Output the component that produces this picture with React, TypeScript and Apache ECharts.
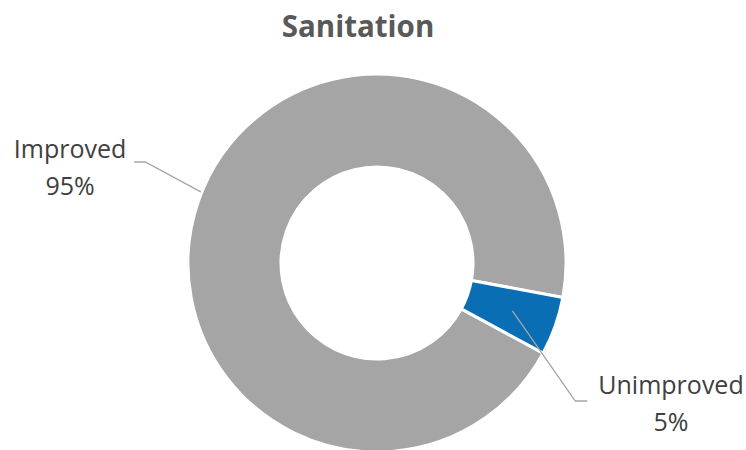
import React, { useEffect, useRef } from "react";
import * as echarts from "echarts";

const title = "Sanitation";
const categories = ["Improved", "Unimproved"];
const values = [95, 5];
const colors = ["#A5A5A5", "#0A6EB5"];

export default function App() {
  const ref = useRef<HTMLDivElement>(null);
  useEffect(() => {
    document.body.style.margin = "0";
    const chart = echarts.init(ref.current!, null, { renderer: "svg" });
    const cx = 377;
    const cy = 263;
    const labelPos = [
      { x: 70, y: 166 },
      { x: 671, y: 402 },
    ];
    const base = {
      type: "pie",
      center: [cx, cy],
      radius: [96, 189],
      startAngle: -28.5,
      clockwise: true,
    };
    chart.setOption({
      animation: false,
      backgroundColor: "#ffffff",
      title: {
        text: title,
        left: 353,
        textAlign: "center",
        top: 5,
        textStyle: {
          fontFamily: "Open Sans",
          fontWeight: "bold",
          fontSize: 29.5,
          color: "#595959",
        },
      },
      series: [
        {
          ...base,
          z: 2,
          data: categories.map((c, i) => ({
            name: c,
            value: values[i],
            itemStyle: { color: colors[i] },
          })),
          itemStyle: { borderColor: "#ffffff", borderWidth: 3 },
          label: { show: false },
          labelLine: { show: false },
        },
        {
          ...base,
          z: 5,
          silent: true,
          data: categories.map((c, i) => ({
            name: c,
            value: values[i],
          })),
          itemStyle: { color: "rgba(0,0,0,0)", borderWidth: 0 },
          label: {
            show: true,
            position: "outside",
            formatter: (p: any) => `${p.name}\n${Math.round(p.percent)}%`,
            fontFamily: "Open Sans",
            fontSize: 25,
            lineHeight: 37,
            color: "#404040",
            align: "center",
            overflow: "none",
          },
          labelLine: {
            show: true,
            showAbove: true,
            length: 30,
            length2: 10,
            lineStyle: { color: "#A5A5A5", width: 1.3 },
          },
          labelLayout: (params: any) => {
            const i = params.dataIndex;
            const pos = labelPos[i];
            const w = params.labelRect.width;
            const pts = params.labelLinePoints;
            if (!pts) return { x: pos.x, y: pos.y, align: "center", verticalAlign: "middle" };
            const p0 = pts[0];
            let linePts;
            if (i === 0) {
              const right = pos.x + w / 2;
              linePts = [
                [p0[0] + 2, p0[1] - 8],
                [right + 19, pos.y - 4],
                [right + 8, pos.y - 4],
              ];
            } else {
              const left = pos.x - w / 2;
              const k = 0.76;
              linePts = [
                [cx + (p0[0] - cx) * k, cy + (p0[1] - cy) * k],
                [left - 23, pos.y - 1],
                [left - 11, pos.y - 1],
              ];
            }
            return {
              x: pos.x,
              y: pos.y,
              align: "center",
              verticalAlign: "middle",
              labelLinePoints: linePts,
            };
          },
        },
      ],
    });
    return () => chart.dispose();
  }, []);
  return <div ref={ref} style={{ width: 746, height: 450 }} />;
}
